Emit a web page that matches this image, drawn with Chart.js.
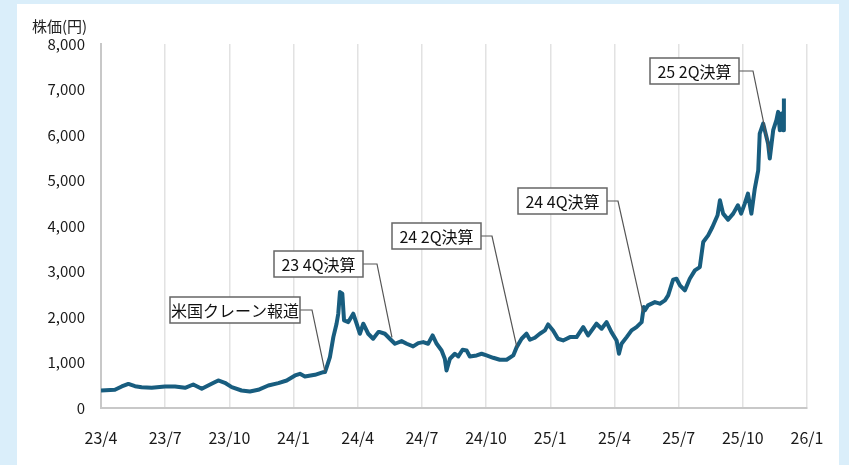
<!DOCTYPE html>
<html>
<head>
<meta charset="utf-8">
<script src="https://cdn.jsdelivr.net/npm/chart.js@4"></script>
<style>
  html, body { margin: 0; padding: 0; background: #daeefa; }
  #wrap { position: relative; width: 849px; height: 465px; }
</style>
</head>
<body>
<div id="wrap"><canvas id="stockCanvas" width="849" height="465"></canvas></div>
<script>
// === Data (x = months since 2023/4) ===
const priceMonths = [
  0.0, 0.65, 0.97, 1.28, 1.59, 1.90, 2.37, 2.99, 3.46, 3.93, 4.31, 4.71, 5.17, 5.48, 5.79,
  6.11, 6.57, 6.96, 7.35, 7.82, 8.29, 8.68, 9.07, 9.30, 9.53, 10.0, 10.39, 10.47, 10.55, 10.70,
  10.86, 11.01, 11.09, 11.17, 11.28, 11.36, 11.56, 11.79, 11.95, 12.10, 12.26, 12.49, 12.72, 12.96,
  13.04, 13.27, 13.50, 13.74, 14.05, 14.29, 14.59, 14.83, 15.06, 15.29, 15.50, 15.69, 15.92, 16.07,
  16.15, 16.31, 16.54, 16.70, 16.90, 17.09, 17.24, 17.56, 17.79, 18.02, 18.33, 18.64, 18.96, 19.27,
  19.43, 19.66, 19.89, 20.05, 20.28, 20.51, 20.75, 20.90, 21.13, 21.36,
  21.60, 21.92, 22.23, 22.54, 22.77, 23.16, 23.40, 23.63, 23.86, 24.10, 24.21, 24.33, 24.57, 24.80,
  25.03, 25.27, 25.37, 25.42, 25.57, 25.89, 26.12, 26.36, 26.51, 26.74, 26.90, 27.06, 27.29, 27.52,
  27.76, 27.99, 28.15, 28.38, 28.58, 28.82, 28.93, 29.08, 29.31,
  29.55, 29.77, 29.92, 30.09, 30.24, 30.40, 30.56, 30.72, 30.79, 30.95, 31.18, 31.26, 31.42, 31.57,
  31.65, 31.73, 31.81, 31.88, 31.92
];
const priceValues = [
  385, 400, 473, 530, 480, 458, 444, 473, 473, 444, 517, 422, 532, 605, 554,
  458, 385, 363, 400, 495, 546, 605, 715, 752, 693, 730, 788, 790, 898, 1118,
  1558, 1852, 2072, 2548, 2512, 1925, 1888, 2072, 1852, 1632, 1852, 1632, 1522, 1668,
  1668, 1632, 1522, 1412, 1470, 1412, 1353, 1426, 1448, 1412, 1595, 1412, 1265, 1082,
  825, 1082, 1192, 1133, 1280, 1265, 1133, 1155, 1192, 1155, 1104, 1060, 1060, 1155,
  1338, 1522, 1632, 1500, 1544, 1632, 1705, 1837, 1705, 1522,
  1485, 1558, 1558, 1778, 1595, 1852, 1742, 1888, 1668, 1485, 1192, 1412, 1558, 1705,
  1778, 1888, 2218, 2145, 2255, 2328, 2292, 2365, 2475, 2819, 2840, 2695, 2585, 2840,
  3025, 3098, 3648, 3795, 3978, 4235, 4565, 4272, 4140,
  4272, 4455, 4272, 4492, 4712, 4272, 4822, 5225, 6032, 6252, 5812, 5482, 6105, 6325,
  6508, 6105, 6472, 6105, 6802
];
const xTickLabels = ['23/4', '23/7', '23/10', '24/1', '24/4', '24/7', '24/10', '25/1', '25/4', '25/7', '25/10', '26/1'];
const yAxisTitle = '株価(円)';

// === Annotations: label + the point it refers to ===
const annotLabels = ['米国クレーン報道', '23 4Q決算', '24 2Q決算', '24 4Q決算', '25 2Q決算'];
const annotMonths = [10.47, 13.6, 19.44, 25.33, 31.26];
const annotValues = [800, 1550, 1330, 2100, 5620];
// box layout in pixels: left, top, width, elbow offset
const annotBoxes = [[170, 297, 130, 12], [274, 251, 89, 14], [392, 223, 89, 11], [518, 188, 89, 11], [650, 58, 89, 14]];

const FONT = '"Noto Sans CJK JP", "Noto Sans", sans-serif';

// === Panel background + title ===
const panelPlugin = {
  id: 'panel',
  beforeDraw(chart) {
    const c = chart.ctx;
    c.save();
    c.fillStyle = '#daeefa';
    c.fillRect(0, 0, chart.width, chart.height);
    c.fillStyle = '#ffffff';
    c.fillRect(17, 4, 822, chart.height - 4);
    c.fillStyle = '#222';
    c.font = '15px ' + FONT;
    c.textBaseline = 'middle';
    c.textAlign = 'left';
    c.fillText(yAxisTitle, 32, 26);
    c.restore();
  }
};

// === Callout boxes ===
const calloutPlugin = {
  id: 'callouts',
  afterDatasetsDraw(chart) {
    const c = chart.ctx;
    const xs = chart.scales.x, ys = chart.scales.y;
    c.save();
    annotLabels.forEach((txt, i) => {
      const [bx, by, bw, elbow] = annotBoxes[i];
      const bh = 26;
      const px = xs.getPixelForValue(annotMonths[i]);
      const py = ys.getPixelForValue(annotValues[i]);
      // leader line
      c.strokeStyle = '#555';
      c.lineWidth = 1.2;
      c.beginPath();
      c.moveTo(bx + bw, by + bh / 2);
      c.lineTo(bx + bw + elbow, by + bh / 2);
      c.lineTo(px, py);
      c.stroke();
      // box
      c.fillStyle = '#fff';
      c.fillRect(bx, by, bw, bh);
      c.strokeStyle = '#666';
      c.lineWidth = 1.5;
      c.strokeRect(bx, by, bw, bh);
      c.fillStyle = '#111';
      c.font = '16px ' + FONT;
      c.textAlign = 'center';
      c.textBaseline = 'middle';
      c.fillText(txt, bx + bw / 2, by + bh / 2 + 1);
    });
    c.restore();
  }
};

const ctx = document.getElementById('stockCanvas').getContext('2d');

new Chart(ctx, {
  type: 'line',
  data: {
    datasets: [{
      data: priceMonths.map((m, i) => ({ x: m, y: priceValues[i] })),
      borderColor: '#185d7f',
      borderWidth: 4,
      pointRadius: 0,
      tension: 0,
      borderJoinStyle: 'round'
    }]
  },
  options: {
    responsive: false,
    animation: false,
    layout: { padding: { top: 44, right: 42, left: 0, bottom: 0 } },
    plugins: { legend: { display: false }, tooltip: { enabled: false } },
    scales: {
      x: {
        type: 'linear',
        min: 0,
        max: 33,
        afterFit: s => { s.height = 57; },
        afterBuildTicks: s => { s.ticks = xTickLabels.map((_, i) => ({ value: i * 3 })); },
        grid: { color: '#e2e2e2', lineWidth: 1.5, drawTicks: false },
        border: { color: '#c8c8c8', width: 2 },
        ticks: {
          padding: 20,
          color: '#1a1a1a',
          font: { size: 16, family: FONT },
          maxRotation: 0,
          autoSkip: false,
          callback: v => xTickLabels[Math.round(v / 3)]
        }
      },
      y: {
        min: 0,
        max: 8000,
        afterFit: s => { s.width = 101; },
        grid: { display: false, drawTicks: false },
        border: { color: '#c8c8c8', width: 2 },
        ticks: {
          stepSize: 1000,
          padding: 16,
          color: '#1a1a1a',
          font: { size: 15, family: FONT },
          callback: v => v.toLocaleString('en-US')
        }
      }
    }
  },
  plugins: [panelPlugin, calloutPlugin]
});
</script>
</body>
</html>
